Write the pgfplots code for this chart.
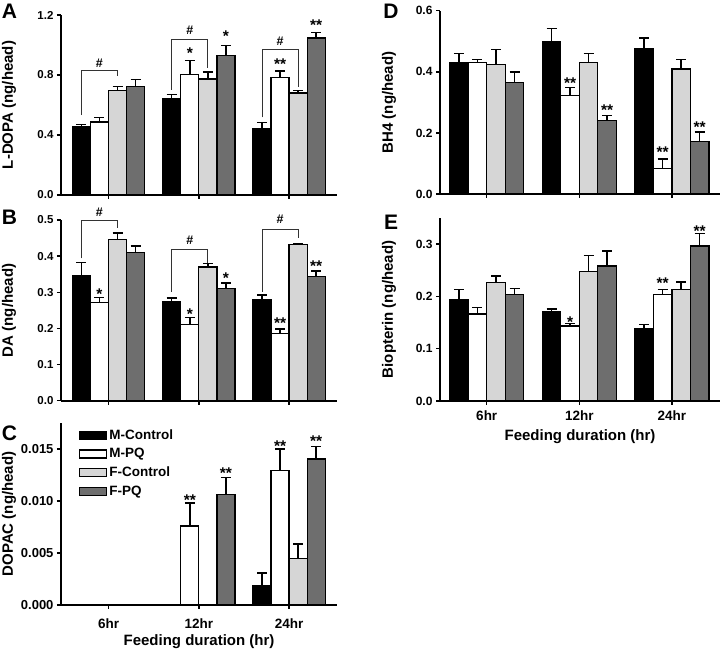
\documentclass[border=0pt]{standalone}
\usepackage{fontspec}
\setmainfont{Liberation Sans}
\usepackage{pgfplots}
\pgfplotsset{compat=1.18}
\definecolor{lg}{HTML}{D6D6D6}
\definecolor{dg}{HTML}{6E6E6E}
\tikzset{
  brk/.style={line width=0.8pt, black!80},
  hash/.style={font=\fontsize{12.5}{14}\selectfont\bfseries, inner sep=0pt},
  stars/.style={font=\fontsize{15.5}{17}\selectfont\bfseries, inner sep=0pt, yshift=-3.5pt},
  letter/.style={font=\fontsize{21}{24}\selectfont\bfseries, inner sep=0pt},
}
\pgfplotsset{
  panel/.style={
    scale only axis, ybar, bar width=0.2,
    axis x line*=bottom, axis y line*=left,
    axis line style={line width=2pt, -},
    tick style={line width=1.5pt, black},
    major tick length=4pt, tick align=outside,
    xtick={0,1,2}, xticklabels={},
    ymin=0, enlargelimits=false, clip=false,
    /pgf/number format/assume math mode=true,
    yticklabel style={font=\fontsize{11.5}{13}\selectfont\bfseries},
    xticklabel style={font=\fontsize{13.5}{15}\selectfont\bfseries},
    label style={font=\fontsize{15}{18}\selectfont\bfseries},
    scaled y ticks=false,
  },
  lpanel/.style={panel, width=276pt, xmin=-0.526, xmax=2.53,
    ylabel style={at={(axis description cs:-0.188,0.5)}, anchor=center}},
  rpanel/.style={panel, width=280pt, xmin=-0.505, xmax=2.52,
    ylabel style={at={(axis description cs:-0.182,0.5)}, anchor=center}},
  bars/.style={draw=black, line width=1.3pt, bar shift=0pt, fill=#1,
    error bars/.cd, y dir=plus, y explicit,
    error bar style={line width=1.5pt, black, solid},
    error mark options={rotate=90, mark size=5pt, line width=1.5pt, black}},
}
\begin{document}
\begin{tikzpicture}
\useasboundingbox (0,0) rectangle (720pt,650pt);
\node[letter] at (9.5pt,639pt) {A};
\node[letter] at (9.5pt,433pt) {B};
\node[letter] at (9.5pt,217pt) {C};
\node[letter] at (391pt,639pt) {D};
\node[letter] at (391pt,428pt) {E};

% ---------- A ----------
\begin{axis}[lpanel, at={(61pt,455pt)}, anchor=south west, height=180pt,
  ymax=1.2, ytick={0,0.4,0.8,1.2},
  yticklabel style={/pgf/number format/.cd, fixed, fixed zerofill, precision=1},
  ylabel={L-DOPA (ng/head)}]
\addplot[bars=black] coordinates {(-0.3,0.455)+-(0,0.014) (0.7,0.64)+-(0,0.029) (1.7,0.442)+-(0,0.04)};
\addplot[bars=white] coordinates {(-0.1,0.487)+-(0,0.029) (0.9,0.804)+-(0,0.094) (1.9,0.784)+-(0,0.043)};
\addplot[bars=lg] coordinates {(0.1,0.698)+-(0,0.024) (1.1,0.773)+-(0,0.047) (2.1,0.68)+-(0,0.018)};
\addplot[bars=dg] coordinates {(0.3,0.724)+-(0,0.045) (1.3,0.931)+-(0,0.067) (2.3,1.047)+-(0,0.037)};
\draw[brk] (axis cs:-0.3,0.533) |- (axis cs:0.1,0.829) -- (axis cs:0.1,0.79);
\draw[brk] (axis cs:0.7,0.70) |- (axis cs:1.1,1.038) -- (axis cs:1.1,0.844);
\draw[brk] (axis cs:1.7,0.518) |- (axis cs:2.1,0.971) -- (axis cs:2.1,0.718);
\node[hash] at (axis cs:-0.1,0.878) {\#};
\node[hash] at (axis cs:0.9,1.096) {\#};
\node[hash] at (axis cs:1.9,1.022) {\#};
\node[stars] at (axis cs:0.9,0.969) {*};
\node[stars] at (axis cs:1.3,1.08) {*};
\node[stars] at (axis cs:1.9,0.893) {**};
\node[stars] at (axis cs:2.3,1.155) {**};
\end{axis}

% ---------- B ----------
\begin{axis}[lpanel, at={(61pt,249.3pt)}, anchor=south west, height=180.7pt,
  ymax=0.5, ytick={0,0.1,0.2,0.3,0.4,0.5},
  yticklabel style={/pgf/number format/.cd, fixed, fixed zerofill, precision=1},
  ylabel={DA (ng/head)}]
\addplot[bars=black] coordinates {(-0.3,0.346)+-(0,0.036) (0.7,0.274)+-(0,0.010) (1.7,0.279)+-(0,0.013)};
\addplot[bars=white] coordinates {(-0.1,0.272)+-(0,0.013) (0.9,0.211)+-(0,0.019) (1.9,0.185)+-(0,0.013)};
\addplot[bars=lg] coordinates {(0.1,0.447)+-(0,0.017) (1.1,0.370)+-(0,0.010) (2.1,0.432)+-(0,0.003)};
\addplot[bars=dg] coordinates {(0.3,0.411)+-(0,0.017) (1.3,0.310)+-(0,0.015) (2.3,0.344)+-(0,0.015)};
\draw[brk] (axis cs:-0.3,0.394) |- (axis cs:0.1,0.5) -- (axis cs:0.1,0.477);
\draw[brk] (axis cs:0.7,0.302) |- (axis cs:1.1,0.42) -- (axis cs:1.1,0.38);
\draw[brk] (axis cs:1.7,0.302) |- (axis cs:2.1,0.475) -- (axis cs:2.1,0.449);
\node[hash] at (axis cs:-0.1,0.522) {\#};
\node[hash] at (axis cs:0.9,0.443) {\#};
\node[hash] at (axis cs:1.9,0.502) {\#};
\node[stars] at (axis cs:-0.1,0.304) {*};
\node[stars] at (axis cs:0.9,0.249) {*};
\node[stars] at (axis cs:1.3,0.348) {*};
\node[stars] at (axis cs:1.9,0.223) {**};
\node[stars] at (axis cs:2.3,0.383) {**};
\end{axis}

% ---------- C ----------
\begin{axis}[lpanel, at={(61pt,45pt)}, anchor=south west, height=182pt,
  ymax=0.0175, ytick={0,0.005,0.01,0.015},
  yticklabel style={font=\fontsize{13}{15}\selectfont\bfseries,
    /pgf/number format/.cd, fixed, fixed zerofill, precision=3},
  xticklabels={6hr,12hr,24hr},
  xticklabel style={yshift=-6pt},
  ylabel={DOPAC (ng/head)},
  xlabel={Feeding duration (hr)},
  xlabel style={at={(axis description cs:0.5,-0.203)}, anchor=center},
  legend image code/.code={\draw[#1] (0pt,-4pt) rectangle (27pt,4pt);},
  legend style={draw=none, fill=none, at={(axis description cs:0.065,0.975)}, anchor=north west,
    font=\fontsize{13.5}{15}\selectfont\bfseries, row sep=3.5pt, inner sep=0pt,
    cells={anchor=west}},
  legend cell align=left]
\addplot[bars=black] coordinates {(1.7,0.00183)+-(0,0.00125)};
\addlegendentry{M-Control}
\addplot[bars=white] coordinates {(0.9,0.00761)+-(0,0.00222) (1.9,0.01291)+-(0,0.00209)};
\addlegendentry{M-PQ}
\addplot[bars=lg] coordinates {(2.1,0.0045)+-(0,0.00135)};
\addlegendentry{F-Control}
\addplot[bars=dg] coordinates {(1.3,0.0106)+-(0,0.00167) (2.3,0.01404)+-(0,0.00122)};
\addlegendentry{F-PQ}
\node[stars] at (axis cs:0.9,0.01044) {**};
\node[stars] at (axis cs:1.3,0.0130) {**};
\node[stars] at (axis cs:1.9,0.0156) {**};
\node[stars] at (axis cs:2.3,0.0161) {**};
\end{axis}

% ---------- D ----------
\begin{axis}[rpanel, at={(440pt,456pt)}, anchor=south west, height=183.3pt,
  ymax=0.6, ytick={0,0.2,0.4,0.6},
  yticklabel style={font=\fontsize{12}{14}\selectfont\bfseries,
    /pgf/number format/.cd, fixed, fixed zerofill, precision=1},
  ylabel={BH4 (ng/head)}]
\addplot[bars=black] coordinates {(-0.3,0.43)+-(0,0.03) (0.7,0.5)+-(0,0.042) (1.7,0.477)+-(0,0.033)};
\addplot[bars=white] coordinates {(-0.1,0.43)+-(0,0.01) (0.9,0.322)+-(0,0.026) (1.9,0.084)+-(0,0.031)};
\addplot[bars=lg] coordinates {(0.1,0.425)+-(0,0.048) (1.1,0.43)+-(0,0.03) (2.1,0.409)+-(0,0.032)};
\addplot[bars=dg] coordinates {(0.3,0.365)+-(0,0.034) (1.3,0.24)+-(0,0.017) (2.3,0.171)+-(0,0.032)};
\node[stars] at (axis cs:0.9,0.373) {**};
\node[stars] at (axis cs:1.3,0.286) {**};
\node[stars] at (axis cs:1.9,0.147) {**};
\node[stars] at (axis cs:2.3,0.231) {**};
\end{axis}

% ---------- E ----------
\begin{axis}[rpanel, at={(440pt,249pt)}, anchor=south west, height=183.2pt,
  ymax=0.35, ytick={0,0.1,0.2,0.3},
  yticklabel style={font=\fontsize{12}{14}\selectfont\bfseries,
    /pgf/number format/.cd, fixed, fixed zerofill, precision=1},
  xticklabels={6hr,12hr,24hr},
  xticklabel style={yshift=-2pt},
  ylabel={Biopterin (ng/head)},
  xlabel={Feeding duration (hr)},
  xlabel style={at={(axis description cs:0.5,-0.195)}, anchor=center}]
\addplot[bars=black] coordinates {(-0.3,0.193)+-(0,0.02) (0.7,0.171)+-(0,0.005) (1.7,0.138)+-(0,0.008)};
\addplot[bars=white] coordinates {(-0.1,0.166)+-(0,0.013) (0.9,0.143)+-(0,0.005) (1.9,0.204)+-(0,0.009)};
\addplot[bars=lg] coordinates {(0.1,0.227)+-(0,0.012) (1.1,0.248)+-(0,0.03) (2.1,0.213)+-(0,0.014)};
\addplot[bars=dg] coordinates {(0.3,0.203)+-(0,0.012) (1.3,0.258)+-(0,0.029) (2.3,0.296)+-(0,0.024)};
\node[stars] at (axis cs:0.9,0.158) {*};
\node[stars] at (axis cs:1.9,0.231) {**};
\node[stars] at (axis cs:2.3,0.331) {**};
\end{axis}
\end{tikzpicture}
\end{document}
